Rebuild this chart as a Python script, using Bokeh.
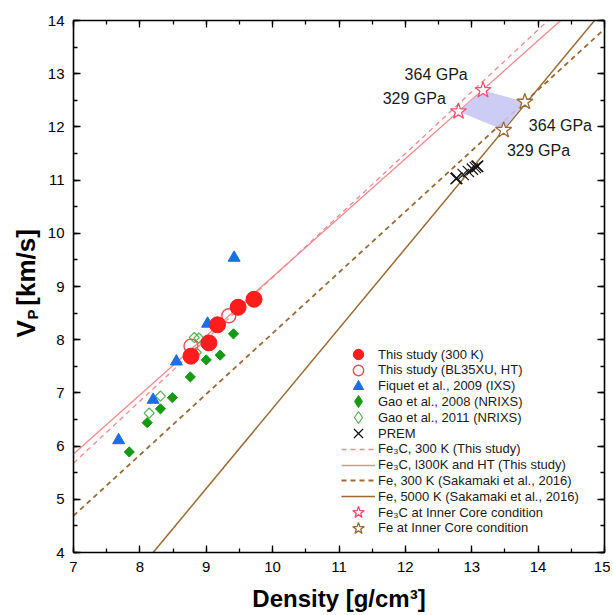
import math
from bokeh.plotting import figure
from bokeh.layouts import row
from bokeh.models import (LinearAxis, SingleIntervalTicker, Label, Legend,
                          LegendItem, Range1d, CustomJSTickFormatter)
from bokeh.embed import file_html
from bokeh.resources import INLINE

# ---------------- data ----------------
this300_rho = [8.77, 9.04, 9.17, 9.48, 9.72]
this300_vp = [7.69, 7.94, 8.28, 8.61, 8.76]

thisHT_rho = [8.77, 9.34]
thisHT_vp = [7.88, 8.45]

fiquet_rho = [7.68, 8.20, 8.55, 9.02, 9.42]
fiquet_vp = [6.11, 6.87, 7.59, 8.30, 9.54]

gao08_rho = [7.84, 8.11, 8.31, 8.49, 8.76, 9.00, 9.21, 9.41]
gao08_vp = [5.89, 6.44, 6.70, 6.91, 7.30, 7.62, 7.71, 8.11]

gao11_rho = [8.14, 8.31, 8.82, 8.89, 8.85]
gao11_vp = [6.62, 6.94, 8.04, 8.03, 7.76]

prem_rho = [12.764, 12.775, 12.871, 12.949, 13.010, 13.054, 13.080, 13.089]
prem_vp = [11.028, 11.036, 11.106, 11.162, 11.206, 11.237, 11.256, 11.262]

fe3c_300k_rho = [7.0, 14.15]
fe3c_300k_vp = [5.68, 14.0]
fe3c_ht_rho = [7.0, 14.34]
fe3c_ht_vp = [5.85, 14.0]
fe_300k_rho = [7.0, 15.0]
fe_300k_vp = [4.69, 13.84]
fe_5000k_rho = [8.20, 14.85]
fe_5000k_vp = [4.0, 14.0]

# inner core conditions: [329 GPa, 364 GPa]
fe3c_ic_rho = [12.80, 13.17]
fe3c_ic_vp = [12.29, 12.69]
fe_ic_rho = [13.48, 13.80]
fe_ic_vp = [11.94, 12.47]
pressure_labels = ["329 GPa", "364 GPa"]

x_ticks_interval = 1
y_ticks_interval = 1

FONT = "Liberation Sans"
TOP = 20
FRAME_H = 532
BOTTOM = 62
LAB_W = 44

# ---------------- main figure ----------------
p = figure(frame_width=531, frame_height=FRAME_H,
           x_range=Range1d(7, 15), y_range=Range1d(4, 14),
           min_border_left=72 - LAB_W, min_border_right=6, min_border_top=TOP,
           min_border_bottom=BOTTOM,
           x_axis_type=None, y_axis_type=None,
           output_backend="svg", toolbar_location=None)
p.outline_line_color = None
p.background_fill_color = "white"


def make_axis(labels=True, ticker_interval=1):
    ax = LinearAxis(ticker=SingleIntervalTicker(interval=ticker_interval, num_minor_ticks=2))
    ax.axis_line_color = "black"
    ax.axis_line_width = 1.6
    ax.major_tick_in = 7
    ax.major_tick_out = 0
    ax.minor_tick_in = 4
    ax.minor_tick_out = 0
    ax.major_tick_line_color = "black"
    ax.minor_tick_line_color = "black"
    ax.major_tick_line_width = 1.3
    ax.minor_tick_line_width = 1.3
    if labels:
        ax.major_label_text_font = FONT
        ax.major_label_text_font_size = "15px"
        ax.major_label_text_color = "black"
        ax.major_label_standoff = 9
    else:
        ax.formatter = CustomJSTickFormatter(code="return ''")
        ax.major_label_standoff = 0
    return ax


ax_b = make_axis(True, x_ticks_interval)
ax_b.axis_label = "Density [g/cm³]"
ax_b.axis_label_text_font = FONT
ax_b.axis_label_text_font_style = "bold"
ax_b.axis_label_text_font_size = "24px"
ax_b.axis_label_text_color = "black"
ax_b.axis_label_standoff = 10
ax_l = make_axis(True, y_ticks_interval)
ax_t = make_axis(False, x_ticks_interval)
ax_r = make_axis(False, y_ticks_interval)
p.add_layout(ax_b, "below")
p.add_layout(ax_l, "left")
p.add_layout(ax_t, "above")
p.add_layout(ax_r, "right")

PINK = "#f08a8e"
BROWN = "#9a6a35"

# fit lines
r_fe3c300 = p.line(fe3c_300k_rho, fe3c_300k_vp, line_color=PINK, line_width=1.3, line_dash="5 4")
r_fe3cht = p.line(fe3c_ht_rho, fe3c_ht_vp, line_color=PINK, line_width=1.3)
r_fe300 = p.line(fe_300k_rho, fe_300k_vp, line_color=BROWN, line_width=1.8, line_dash="5 4")
r_fe5000 = p.line(fe_5000k_rho, fe_5000k_vp, line_color=BROWN, line_width=1.5)

# shaded inner-core region
p.patch(fe3c_ic_rho + fe_ic_rho[::-1], fe3c_ic_vp + fe_ic_vp[::-1],
        fill_color="#c6c6f4", fill_alpha=0.9, line_color=None)

# data points
GREEN = "#159a15"
LGREEN = "#52b452"
r_gao08 = p.scatter(gao08_rho, gao08_vp, marker="square", size=7.2, angle=math.pi / 4,
                    fill_color=GREEN, line_color=GREEN, line_width=1)
r_gao11 = p.scatter(gao11_rho, gao11_vp, marker="square", size=7.2, angle=math.pi / 4,
                    fill_color=None, line_color=LGREEN, line_width=1.2)
r_fiquet = p.scatter(fiquet_rho, fiquet_vp, marker="triangle", size=12,
                     fill_color="#1a6ee8", line_color="#1a6ee8")
r_ht = p.scatter(thisHT_rho, thisHT_vp, marker="circle", size=14,
                 fill_color=None, line_color="#ee4b55", line_width=1.4)
r_300 = p.scatter(this300_rho, this300_vp, marker="circle", size=16,
                  fill_color="#ff1c1c", line_color="#ff1c1c")

r_star_fe3c = p.scatter(fe3c_ic_rho, fe3c_ic_vp, marker="star", size=17,
                        fill_color="white", line_color="#ff4f70", line_width=1.3)
r_star_fe = p.scatter(fe_ic_rho, fe_ic_vp, marker="star", size=17,
                      fill_color="white", line_color=BROWN, line_width=1.3)
r_prem = p.scatter(prem_rho, prem_vp, marker="x", size=16,
                   line_color="#111111", line_width=1.2)

# legend-only (hidden) renderers for the diamond symbols
px_gao08 = p.scatter(gao08_rho, gao08_vp, marker="diamond", fill_color=GREEN,
                     line_color=GREEN, visible=False)
px_gao11 = p.scatter(gao11_rho, gao11_vp, marker="diamond", fill_color=None,
                     line_color=LGREEN, line_width=1.2, visible=False)

# pressure annotations
ann_style = dict(text_font=FONT, text_font_size="16px", text_color="#1a1a1a",
                 text_baseline="middle")
p.add_layout(Label(x=12.94, y=12.98, text=pressure_labels[1], text_align="right", **ann_style))
p.add_layout(Label(x=12.61, y=12.54, text=pressure_labels[0], text_align="right", **ann_style))
p.add_layout(Label(x=13.86, y=12.02, text=pressure_labels[1], text_align="left", **ann_style))
p.add_layout(Label(x=13.53, y=11.55, text=pressure_labels[0], text_align="left", **ann_style))

# legend, one entry per Legend so each marker gets its own size
entries = [
    ("This study (300 K)", r_300, 26),
    ("This study (BL35XU, HT)", r_ht, 26),
    ("Fiquet et al., 2009 (IXS)", r_fiquet, 26),
    ("Gao et al., 2008 (NRIXS)", px_gao08, 30),
    ("Gao et al., 2011 (NRIXS)", px_gao11, 30),
    ("PREM", r_prem, 32),
    ("Fe₃C, 300 K (This study)", r_fe3c300, 16),
    ("Fe₃C, l300K and HT (This study)", r_fe3cht, 16),
    ("Fe, 300 K (Sakamaki et al., 2016)", r_fe300, 16),
    ("Fe, 5000 K (Sakamaki et al., 2016)", r_fe5000, 16),
    ("Fe₃C at Inner Core condition", r_star_fe3c, 30),
    ("Fe at Inner Core condition", r_star_fe, 30),
]
first_row = 354 - TOP   # first row centre below frame top (px)
row_step = 15.8
for i, (lab, rend, h) in enumerate(entries):
    centre_from_top = first_row + i * row_step
    y_loc = FRAME_H - centre_from_top - h / 2
    leg = Legend(items=[LegendItem(label=lab, renderers=[rend])],
                 location=(268, y_loc), orientation="vertical",
                 glyph_width=34, glyph_height=h, label_height=h,
                 label_standoff=3, padding=0, margin=0, spacing=0,
                 border_line_alpha=0, background_fill_alpha=0,
                 label_text_font=FONT, label_text_font_size="13px",
                 label_text_color="#1a1a1a", label_text_baseline="middle",
                 click_policy="none")
    p.add_layout(leg)

# ---------------- y-axis title panel (for the subscript) ----------------
ylab = figure(frame_width=LAB_W, frame_height=FRAME_H,
              x_range=Range1d(0, LAB_W), y_range=Range1d(4, 14),
              min_border_left=0, min_border_right=0, min_border_top=TOP,
              min_border_bottom=BOTTOM, x_axis_type=None, y_axis_type=None,
              output_backend="svg", toolbar_location=None)
ylab.outline_line_color = None
lab_style = dict(text_font=FONT, text_font_style="bold", text_color="black",
                 angle=math.pi / 2, text_align="left", text_baseline="middle")
ylab.add_layout(Label(x=25, y=8.04, text="V", text_font_size="26px", **lab_style))
ylab.add_layout(Label(x=32, y=8.38, text="P", text_font_size="15px", **lab_style))
ylab.add_layout(Label(x=25, y=8.64, text="[km/s]", text_font_size="26px", **lab_style))

layout = row(ylab, p, spacing=0)
open("out.html", "w").write(file_html(layout, INLINE))
